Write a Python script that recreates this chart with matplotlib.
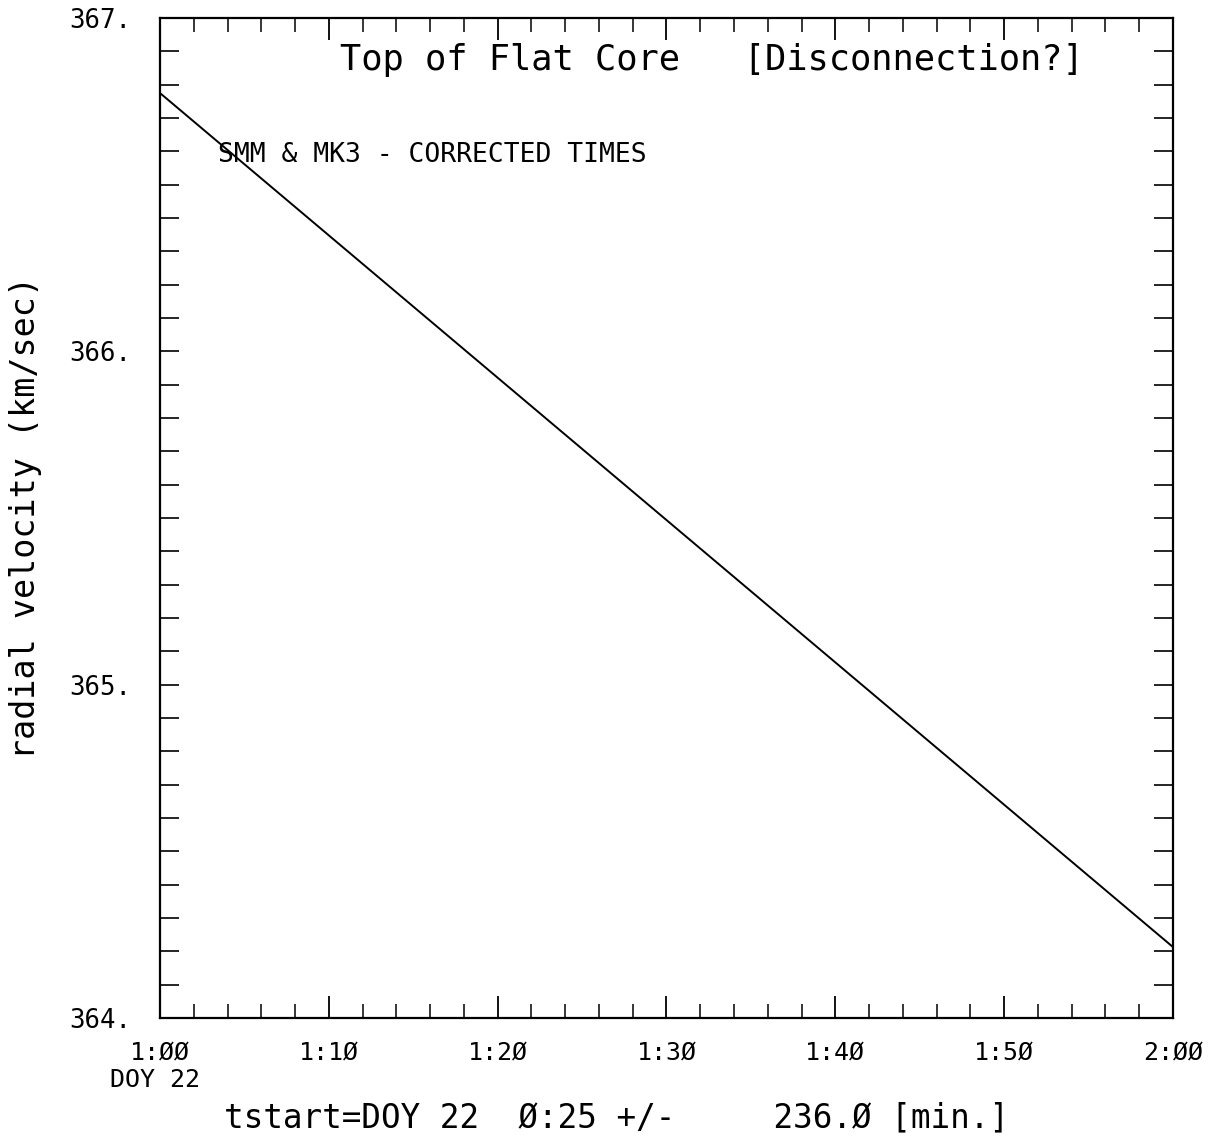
import numpy as np
import matplotlib.pyplot as plt
from matplotlib.ticker import MultipleLocator, FixedLocator

# fitted line, time in minutes of day 22 and velocity in km/sec
t = [60, 120]
v = [366.775, 364.213]

xticks = [60, 70, 80, 90, 100, 110, 120]
xlabels = ['1:ØØ', '1:1Ø', '1:2Ø', '1:3Ø', '1:4Ø', '1:5Ø', '2:ØØ']
yticks = [364, 365, 366, 367]
ylabels = ['364.', '365.', '366.', '367.']

mono = 'DejaVu Sans Mono'
plt.rcParams['font.family'] = mono

fig = plt.figure(figsize=(12.23, 11.48), dpi=100)
ax = fig.add_axes([0.1308, 0.1132, 0.8283, 0.8711])
ax.plot(t, v, color='black', lw=1.4)

ax.set_xlim(60, 120)
ax.set_ylim(364, 367)

ax.xaxis.set_major_locator(FixedLocator(xticks))
ax.set_xticklabels(xlabels, fontsize=18)
ax.xaxis.set_minor_locator(MultipleLocator(2))
ax.yaxis.set_major_locator(FixedLocator(yticks))
ax.set_yticklabels(ylabels, fontsize=18.5)
ax.yaxis.set_minor_locator(MultipleLocator(0.1))

ax.tick_params(axis='x', which='major', direction='in', length=16, width=1.3,
               top=True, pad=16)
ax.tick_params(axis='x', which='minor', direction='in', length=10, width=1.1, top=True)
ax.tick_params(axis='y', which='both', direction='in', length=14, width=1.2,
               right=True, pad=21)
for s in ax.spines.values():
    s.set_linewidth(1.6)

ax.text(0.545, 0.958, 'Top of Flat Core   [Disconnection?]', transform=ax.transAxes,
        ha='center', va='center', fontsize=25.5)
ax.text(0.057, 0.863, 'SMM & MK3 - CORRECTED TIMES', transform=ax.transAxes,
        ha='left', va='center', fontsize=19)

fig.text(0.09, 0.059, 'DOY 22', ha='left', va='center', fontsize=18)
fig.text(0.504, 0.026, 'tstart=DOY 22  Ø:25 +/-     236.Ø [min.]',
         ha='center', va='center', fontsize=23.5)
fig.text(0.021, 0.549, 'radial velocity (km/sec)', rotation=90,
         ha='center', va='center', fontsize=24)

plt.savefig('out.png', dpi=100)
